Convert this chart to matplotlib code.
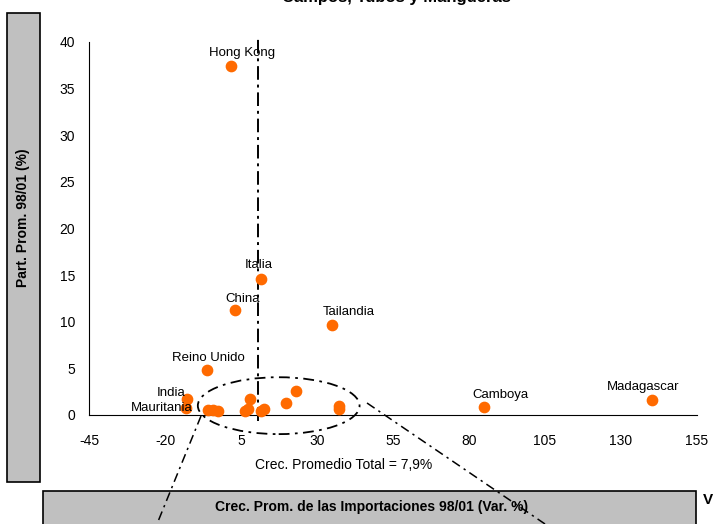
import matplotlib
matplotlib.use('Agg')
import matplotlib.pyplot as plt
from matplotlib.patches import Ellipse, Rectangle
from matplotlib.lines import Line2D

plt.rcParams['font.family'] = ['Liberation Sans', 'DejaVu Sans']
plt.rcParams['axes.unicode_minus'] = False

# datos
paises = ['Hong Kong', 'Italia', 'China', 'Tailandia', 'Reino Unido', 'India', 'Mauritania',
          '', '', '', '', '', '', '', '', '', '', '', 'Camboya', 'Madagascar']
crec = [1.6, 11.5, 2.9, 34.8, -6.3, -12.8, -13.2,
        -5.9, -4.3, -2.6, 6.2, 7.2, 7.9, 11.5, 12.5, 19.7, 23.0, 37.1, 85.0, 140.2]
part = [37.4, 14.6, 11.3, 9.6, 4.8, 1.7, 0.75,
        0.5, 0.5, 0.4, 0.45, 0.65, 1.7, 0.45, 0.65, 1.3, 2.6, 0.95, 0.85, 1.6]
crec2 = [37.4]
part2 = [0.65]
prom_total = 10.6

xticks = [-45, -20, 5, 30, 55, 80, 105, 130, 155]
yticks = [0, 5, 10, 15, 20, 25, 30, 35, 40]

# desplazamiento de etiquetas (pt)
offs = {'Hong Kong': (8, 9.5), 'Italia': (-1.5, 10), 'China': (6, 8), 'Tailandia': (12, 10),
        'Reino Unido': (1.5, 9), 'India': (-11, 4.5), 'Mauritania': (-17, 0),
        'Camboya': (11.5, 8.5), 'Madagascar': (-6.5, 9.5)}

W, H = 713, 524
fig = plt.figure(figsize=(W / 100, H / 100), dpi=100)
ax = fig.add_axes([89 / W, 1 - 415 / H, (697 - 89) / W, (415 - 42) / H])

naranja = '#FF6A00'
ax.scatter(crec, part, s=55, color=naranja, zorder=3, clip_on=False)
ax.scatter(crec2, part2, s=55, color=naranja, zorder=3, clip_on=False)
for n, x, y in zip(paises, crec, part):
    if n:
        dx, dy = offs[n]
        ax.annotate(n, (x, y), xytext=(dx, dy), textcoords='offset points',
                    ha='center', va='center', fontsize=9.5)

ax.plot([prom_total, prom_total], [-0.6, 40.5], color='black', lw=1.4,
        linestyle=(0, (7, 2.5, 1.5, 2.5)), clip_on=False, zorder=2)

ax.add_patch(Ellipse((17.4, 1.0), 53.2, 6.1, fill=False, color='black', lw=1.3,
                     linestyle=(0, (6, 3, 1.5, 3)), clip_on=False))

ax.set_xlim(-45, 155)
ax.set_ylim(0, 40)
ax.set_xticks(xticks)
ax.set_yticks(yticks)
ax.tick_params(length=0, labelsize=10)
ax.tick_params(axis='x', pad=14)
ax.tick_params(axis='y', pad=10)
for s in ['top', 'right']:
    ax.spines[s].set_visible(False)

# cajas grises
fig.add_artist(Rectangle((7 / W, 1 - 482 / H), 33 / W, 469 / H, facecolor='#C0C0C0',
                         edgecolor='black', lw=1.2))
fig.add_artist(Rectangle((43 / W, -0.05), 653 / W, 0.05 + 1 - 491 / H, facecolor='#C0C0C0',
                         edgecolor='black', lw=1.2))
fig.text(23 / W, 1 - 218 / H, 'Part. Prom. 98/01 (%)', rotation=90, ha='center', va='center',
         fontsize=10, fontweight='bold')
fig.text(372 / W, 1 - 507 / H, 'Crec. Prom. de las Importaciones 98/01 (Var. %)',
         ha='center', va='center', fontsize=10, fontweight='bold')
fig.text(344 / W, 1 - 465 / H, 'Crec. Promedio Total = 7,9%', ha='center', va='center', fontsize=10)
fig.text(703 / W, 1 - 500 / H, 'V', ha='left', va='center', fontsize=11, fontweight='bold')
fig.text(396 / W, 1 - 2 / H, 'Campos, Tubos y Mangueras', ha='center', va='baseline',
         fontsize=12, fontweight='bold')

# lineas de zoom
ls = (0, (6, 3, 1.5, 3))
fig.add_artist(Line2D([201 / W, 157 / W], [1 - 416 / H, 1 - 524 / H], color='black', lw=1.1, linestyle=ls))
fig.add_artist(Line2D([367 / W, 545 / W], [1 - 403 / H, 1 - 524 / H], color='black', lw=1.1, linestyle=ls))

fig.savefig('out.png', dpi=100)
